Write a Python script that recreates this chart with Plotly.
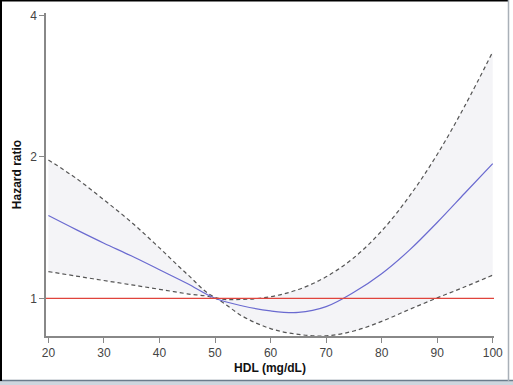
import plotly.graph_objects as go

hdl = [20, 25, 30, 35, 40, 45, 50, 55, 60, 65, 70, 75, 80, 85, 90, 95, 100]
hr_central = [1.50, 1.40, 1.31, 1.23, 1.15, 1.075, 1.00, 0.963, 0.94, 0.933, 0.96, 1.03, 1.128, 1.266, 1.45, 1.675, 1.935]
hr_upper = [1.97, 1.80, 1.62, 1.45, 1.28, 1.125, 1.005, 0.995, 1.008, 1.044, 1.111, 1.22, 1.391, 1.649, 2.023, 2.57, 3.344]
hr_lower = [1.14, 1.115, 1.091, 1.068, 1.045, 1.022, 1.00, 0.915, 0.862, 0.838, 0.832, 0.852, 0.893, 0.947, 1.002, 1.058, 1.12]
y_ticks = [1, 2, 4]
x_ticks = [20, 30, 40, 50, 60, 70, 80, 90, 100]

fig = go.Figure()
fig.add_trace(go.Scatter(x=hdl, y=hr_upper, mode="lines",
                         line=dict(color="#555555", width=1.2, dash="4px,3px", shape="spline", smoothing=1.0), hoverinfo="skip"))
fig.add_trace(go.Scatter(x=hdl, y=hr_lower, mode="lines",
                         line=dict(color="#555555", width=1.2, dash="4px,3px", shape="spline", smoothing=1.0),
                         fill="tonexty", fillcolor="rgb(244,244,247)", hoverinfo="skip"))
fig.add_trace(go.Scatter(x=hdl, y=hr_central, mode="lines",
                         line=dict(color="#6a6ad0", width=1.2, shape="spline", smoothing=1.0)))
fig.add_hline(y=1, line=dict(color="#e0443c", width=1.2))

axis_font = dict(family="Liberation Sans, Arial, sans-serif", size=12, color="#444444")
title_font = dict(family="Liberation Sans, Arial, sans-serif", size=12, color="#111111")

fig.update_layout(
    width=513, height=385,
    margin=dict(l=46, r=19, t=13, b=49),
    paper_bgcolor="white", plot_bgcolor="white",
    showlegend=False,
    xaxis=dict(range=[19.57, 100.23], tickvals=x_ticks, ticks="outside", ticklen=5, tickcolor="#888888",
               showline=True, linecolor="#888888", linewidth=1.5, showgrid=False, zeroline=False, automargin=False,
               tickfont=axis_font, title=dict(text="<b>HDL (mg/dL)</b>", font=title_font, standoff=4)),
    yaxis=dict(type="log", range=[-0.0802, 0.607], tickvals=y_ticks, ticktext=[str(v) for v in y_ticks],
               ticks="outside", ticklen=5, tickcolor="#888888",
               showline=True, linecolor="#888888", linewidth=1.5, showgrid=False, zeroline=False, automargin=False,
               tickfont=axis_font, title=dict(text="<b>Hazard ratio</b>", font=title_font, standoff=6)),
)

# image frame
W, H = 448.0, 323.0
def px(x):
    return (x - 46) / W
def py(y):
    return (336 - y) / H
fig.add_shape(type="rect", xref="paper", yref="paper", x0=px(0), x1=px(513), y0=py(380), y1=py(385),
              fillcolor="#cdd6de", line=dict(width=0), layer="above")
fig.add_shape(type="line", xref="paper", yref="paper", x0=px(0), x1=px(513), y0=py(380.5), y1=py(380.5),
              line=dict(color="#6b7c8c", width=1.5))
fig.add_shape(type="line", xref="paper", yref="paper", x0=px(0), x1=px(509), y0=py(0.5), y1=py(0.5),
              line=dict(color="#000000", width=2))
fig.add_shape(type="line", xref="paper", yref="paper", x0=px(1), x1=px(1), y0=py(0), y1=py(381),
              line=dict(color="#000000", width=2))
fig.add_shape(type="line", xref="paper", yref="paper", x0=px(508.5), x1=px(508.5), y0=py(0), y1=py(381),
              line=dict(color="#a9b0b8", width=1.5))

fig.write_html("out.html", config={"displayModeBar": False},
               post_script="document.body.style.margin='0';document.body.style.padding='0';document.body.style.overflow='hidden';")
